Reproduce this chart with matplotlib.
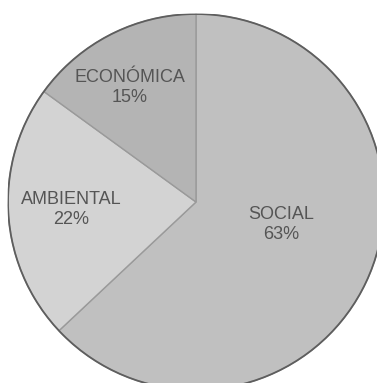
import numpy as np
import matplotlib.pyplot as plt
from matplotlib.patches import Circle

# Share of each dimension (%)
labels = ["SOCIAL", "AMBIENTAL", "ECONÓMICA"]
values = [63, 22, 15]
colors = ["#c0c0c0", "#d3d3d3", "#b4b4b4"]

# where each label sits inside its wedge (fraction of radius, angle offset in deg)
label_radius = [0.47, 0.665, 0.705]
label_shift = [8.5, 0, 3]


def main():
    plt.rcParams["font.family"] = ["Liberation Sans", "DejaVu Sans"]

    fig = plt.figure(figsize=(3.77, 3.83), dpi=100)
    # pie centre at (196, 202) px with radius 188 px; it runs off the right and bottom
    ax = fig.add_axes([8 / 377, -7 / 383, 376 / 377, 376 / 383])

    wedges, _ = ax.pie(
        values,
        colors=colors,
        startangle=90,
        counterclock=False,
        radius=1.0,
        wedgeprops=dict(edgecolor="#9a9a9a", linewidth=1.0),
    )
    # darker rim round the whole pie
    ax.add_patch(Circle((0, 0), 1.0, fill=False, edgecolor="#5e5e5e", linewidth=1.3, zorder=3))

    for w, lab, val, r, d in zip(wedges, labels, values, label_radius, label_shift):
        mid = np.deg2rad((w.theta1 + w.theta2) / 2 + d)
        ax.text(r * np.cos(mid), r * np.sin(mid), f"{lab}\n{val}%",
                ha="center", va="center", fontsize=13, color="#555555",
                linespacing=1.25)

    ax.set_xlim(-1, 1)
    ax.set_ylim(-1, 1)
    ax.set_aspect("auto")
    ax.axis("off")

    fig.savefig("out.png", dpi=100)


if __name__ == "__main__":
    main()
